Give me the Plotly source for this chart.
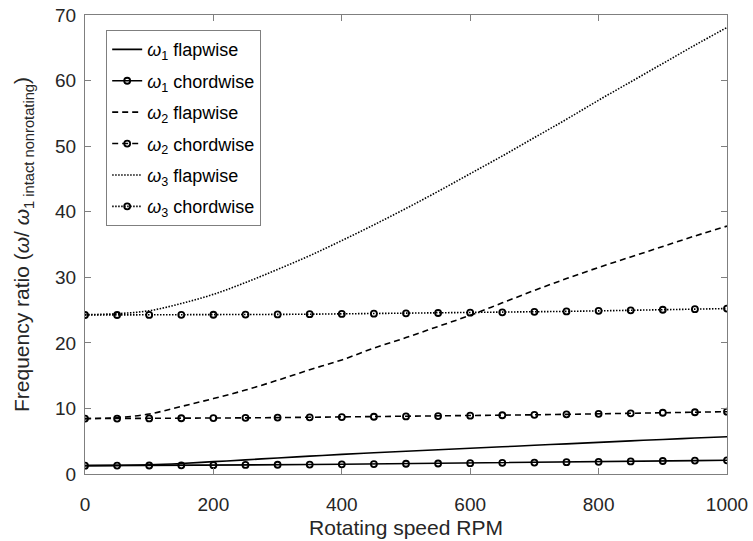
import plotly.graph_objects as go

rpm = [0, 50, 100, 150, 200, 250, 300, 350, 400, 450, 500,
       550, 600, 650, 700, 750, 800, 850, 900, 950, 1000]

w1_flap = [1.27, 1.32, 1.40, 1.60, 1.88, 2.15, 2.45, 2.72, 3.00, 3.23, 3.46,
           3.69, 3.92, 4.15, 4.38, 4.60, 4.83, 5.05, 5.27, 5.48, 5.69]
w1_chord = [1.27, 1.28, 1.30, 1.32, 1.35, 1.38, 1.41, 1.44, 1.48, 1.52, 1.56,
            1.60, 1.65, 1.70, 1.75, 1.80, 1.86, 1.92, 1.98, 2.04, 2.09]
w2_flap = [8.45, 8.6, 9.15, 10.3, 11.5, 12.8, 14.3, 15.9, 17.4, 19.2, 20.8,
           22.5, 24.2, 26.1, 28.0, 29.8, 31.5, 33.1, 34.7, 36.3, 37.8]
w2_chord = [8.45, 8.45, 8.47, 8.50, 8.53, 8.56, 8.60, 8.64, 8.68, 8.73, 8.78,
            8.84, 8.90, 8.96, 9.03, 9.10, 9.18, 9.26, 9.34, 9.42, 9.50]
w3_flap = [24.3, 24.45, 24.9, 26.0, 27.4, 29.2, 31.2, 33.3, 35.6, 38.0, 40.5,
           43.1, 45.8, 48.5, 51.3, 54.1, 57.0, 59.8, 62.6, 65.4, 68.1]
w3_chord = [24.25, 24.25, 24.26, 24.27, 24.29, 24.31, 24.34, 24.37, 24.41, 24.45, 24.50,
            24.55, 24.60, 24.66, 24.73, 24.80, 24.88, 24.96, 25.05, 25.14, 25.23]

names = ["<i>ω</i><sub>1</sub> flapwise", "<i>ω</i><sub>1</sub> chordwise",
         "<i>ω</i><sub>2</sub> flapwise", "<i>ω</i><sub>2</sub> chordwise",
         "<i>ω</i><sub>3</sub> flapwise", "<i>ω</i><sub>3</sub> chordwise"]

x_ticks = [0, 200, 400, 600, 800, 1000]
y_ticks = [0, 10, 20, 30, 40, 50, 60, 70]

FONT = "Liberation Sans, Arial, sans-serif"
dash_pat = "6px,4px"
dot_pat = "1.5px,1.5px"

fig = go.Figure()
series = [
    (w1_flap, names[0], "solid", False),
    (w1_chord, names[1], "solid", True),
    (w2_flap, names[2], dash_pat, False),
    (w2_chord, names[3], dash_pat, True),
    (w3_flap, names[4], dot_pat, False),
    (w3_chord, names[5], dot_pat, True),
]
for i, (ys, nm, dash, mk) in enumerate(series):
    fig.add_trace(go.Scatter(
        x=rpm, y=ys, name=nm, legendgroup=f"g{i}",
        mode="lines+markers" if mk else "lines",
        line=dict(color="black", width=1.6, dash=dash, shape="spline" if not mk else "linear"),
        marker=dict(symbol="circle-open", size=6, color="black", line=dict(width=1.8, color="black")),
    ))

axis_common = dict(
    showline=True, linecolor="#7f7f7f", linewidth=1, mirror="ticks",
    ticks="inside", ticklen=6, tickcolor="#7f7f7f", tickwidth=1,
    showgrid=False, zeroline=False, automargin=False,
    tickfont=dict(family=FONT, size=19, color="#262626"),
)

fig.update_layout(
    width=753, height=541,
    margin=dict(l=85, r=26, t=15, b=67),
    paper_bgcolor="white", plot_bgcolor="white",
    font=dict(family=FONT, size=18, color="#262626"),
    showlegend=True,
    legend=dict(
        x=0.033, y=0.967, xanchor="left", yanchor="top",
        bgcolor="white", bordercolor="#7f7f7f", borderwidth=1,
        font=dict(family=FONT, size=18, color="#000000"),
        itemwidth=30, tracegroupgap=5,
    ),
)
fig.update_xaxes(
    range=[0, 1000], tickvals=x_ticks, ticktext=[str(v) for v in x_ticks],
    title=dict(text="Rotating speed RPM", font=dict(family=FONT, size=21, color="#262626"), standoff=6),
    ticklabelstandoff=13,
    **axis_common,
)
fig.update_yaxes(
    range=[0, 70], tickvals=y_ticks, ticktext=[str(v) for v in y_ticks],
    title=dict(text="Frequency ratio (<i>ω</i>/ <i>ω</i><sub>1 intact nonrotating</sub>)",
               font=dict(family=FONT, size=21, color="#262626"), standoff=19),
    ticklabelstandoff=4,
    **axis_common,
)

fig.write_html("out.html")
